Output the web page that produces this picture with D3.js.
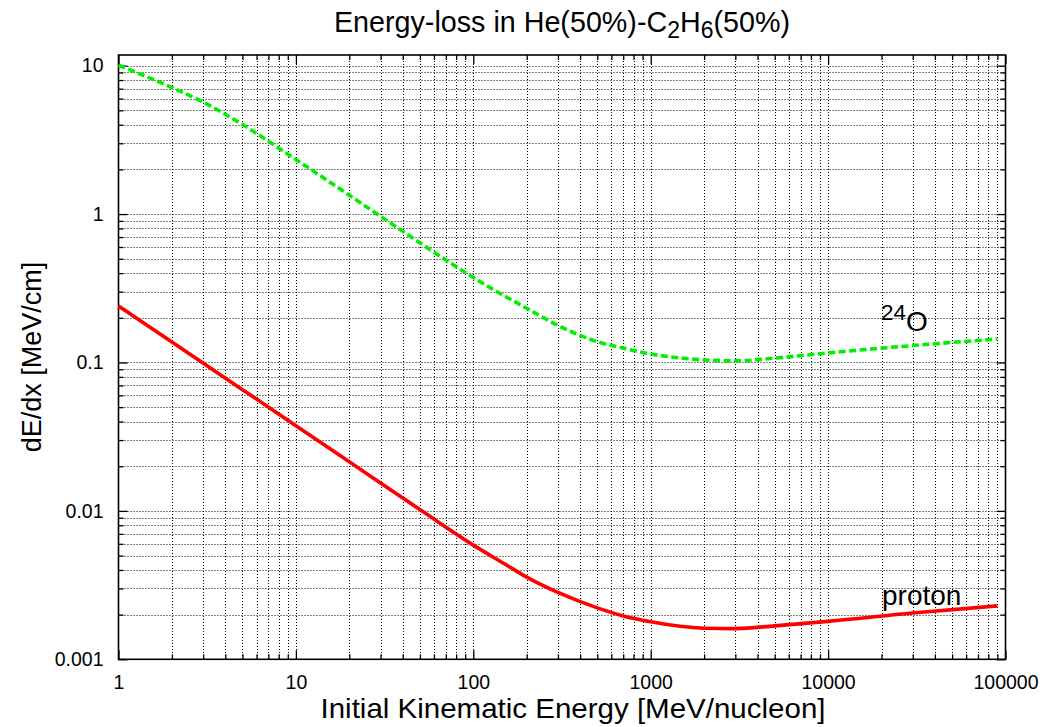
<!DOCTYPE html>
<html><head><meta charset="utf-8">
<script src="https://cdn.jsdelivr.net/npm/d3@7"></script>
<style>body{margin:0;background:#fff}svg{display:block}text{font-family:"Liberation Sans",Arial,sans-serif;fill:#000}</style>
</head><body>
<script>
const protonEnergy = [1, 2, 5, 10, 20, 50, 100, 150, 200, 300, 500, 700, 1000, 2000, 3000, 5000, 10000, 30000, 90000];
const protonDedx   = [0.240, 0.1373, 0.0656, 0.0375, 0.0214, 0.0102, 0.00588, 0.0044, 0.00358, 0.00282, 0.00222, 0.00196, 0.00179, 0.00162, 0.00161, 0.00168, 0.00180, 0.00205, 0.00229];
const oxygenEnergy = [1, 2, 3, 5, 10, 20, 30, 50, 70, 100, 140, 200, 300, 500, 700, 1000, 1500, 2000, 3000, 5000, 10000, 30000, 90000];
const oxygenDedx   = [10.07, 7.12, 5.68, 4.01, 2.33, 1.34, 0.965, 0.64, 0.49, 0.374, 0.294, 0.232, 0.178, 0.138, 0.125, 0.114, 0.107, 0.104, 0.1025, 0.107, 0.116, 0.130, 0.144];
const xTickValues = [1, 10, 100, 1000, 10000, 100000];
const xTickLabels = ["1", "10", "100", "1000", "10000", "100000"];
const yTickValues = [0.001, 0.01, 0.1, 1, 10];
const yTickLabels = ["0.001", "0.01", "0.1", "1", "10"];

const W = 1047, H = 727;
const L = 118.5, R = 1005.5, T = 55, B = 659.3;
const svg = d3.select("body").append("svg").attr("width", W).attr("height", H);
const x = d3.scaleLog().domain([1, 100000]).range([L, R]);
const y = d3.scaleLog().domain([0.001, 11.8]).range([B, T]);

const xMinor = [], yMinor = [];
for (let d = 1; d < 100000; d *= 10) for (let k = 2; k <= 9; k++) xMinor.push(d * k);
for (let d = 0.001; d < 10; d *= 10) for (let k = 2; k <= 9; k++) yMinor.push(d * k);

const grid = svg.append("g").attr("stroke", "#000").attr("stroke-width", 1).attr("stroke-dasharray", "1,2");
xMinor.concat(xTickValues).forEach(v => {
  const px = Math.round(x(v)) + 0.5;
  if (px > L + 2 && px < R - 2) grid.append("line").attr("x1", px).attr("x2", px).attr("y1", T).attr("y2", B);
});
yMinor.concat(yTickValues).forEach(v => {
  const py = Math.round(y(v)) + 0.5;
  if (py > T + 2 && py < B - 2) grid.append("line").attr("y1", py).attr("y2", py).attr("x1", L).attr("x2", R);
});

const axB = d3.axisBottom(x).tickValues(xTickValues).tickFormat((d, i) => xTickLabels[i]).tickSizeInner(-9).tickSizeOuter(0).tickPadding(16);
const axT = d3.axisTop(x).tickValues(xTickValues).tickFormat("").tickSizeInner(-9).tickSizeOuter(0);
const axL = d3.axisLeft(y).tickValues(yTickValues).tickFormat((d, i) => yTickLabels[i]).tickSizeInner(-9).tickSizeOuter(0).tickPadding(15);
const axR = d3.axisRight(y).tickValues(yTickValues).tickFormat("").tickSizeInner(-9).tickSizeOuter(0);
const axBm = d3.axisBottom(x).tickValues(xMinor).tickFormat("").tickSizeInner(-5).tickSizeOuter(0);
const axTm = d3.axisTop(x).tickValues(xMinor).tickFormat("").tickSizeInner(-5).tickSizeOuter(0);
const axLm = d3.axisLeft(y).tickValues(yMinor).tickFormat("").tickSizeInner(-5).tickSizeOuter(0);
const axRm = d3.axisRight(y).tickValues(yMinor).tickFormat("").tickSizeInner(-5).tickSizeOuter(0);

function put(ax, tr) {
  const g = svg.append("g").attr("transform", tr).call(ax);
  g.select(".domain").remove();
  g.selectAll("line").attr("stroke", "#000").attr("stroke-width", 1.3);
  g.selectAll("text").attr("font-size", 19.5).attr("font-family", "Liberation Sans, Arial, sans-serif").attr("fill", "#000");
  return g;
}
put(axB, `translate(0,${B})`); put(axBm, `translate(0,${B})`);
put(axT, `translate(0,${T})`); put(axTm, `translate(0,${T})`);
put(axL, `translate(${L},0)`); put(axLm, `translate(${L},0)`);
put(axR, `translate(${R},0)`); put(axRm, `translate(${R},0)`);

svg.append("rect").attr("x", L).attr("y", T).attr("width", R - L).attr("height", B - T)
  .attr("fill", "none").attr("stroke", "#000").attr("stroke-width", 1.6);

const line = d3.line().x(d => x(d[0])).y(d => y(d[1])).curve(d3.curveMonotoneX);
svg.append("path").datum(oxygenEnergy.map((e, i) => [e, oxygenDedx[i]]))
  .attr("d", line).attr("fill", "none").attr("stroke", "#00ee00").attr("stroke-width", 3.6)
  .attr("stroke-dasharray", "7,3.5");
svg.append("path").datum(protonEnergy.map((e, i) => [e, protonDedx[i]]))
  .attr("d", line).attr("fill", "none").attr("stroke", "#ff0000").attr("stroke-width", 3.6);

const t = svg.append("text").attr("x", 562).attr("y", 32).attr("text-anchor", "middle").attr("font-size", 28.7);
t.append("tspan").text("Energy-loss in He(50%)-C");
t.append("tspan").attr("font-size", 23).attr("dy", 6).text("2");
t.append("tspan").attr("dy", -6).text("H");
t.append("tspan").attr("font-size", 23).attr("dy", 6).text("6");
t.append("tspan").attr("dy", -6).text("(50%)");

svg.append("text").attr("x", 573).attr("y", 718).attr("text-anchor", "middle").attr("font-size", 28)
  .attr("textLength", 505).attr("lengthAdjust", "spacingAndGlyphs")
  .text("Initial Kinematic Energy [MeV/nucleon]");
svg.append("text").attr("transform", "translate(41,357) rotate(-90)").attr("text-anchor", "middle").attr("font-size", 27)
  .text("dE/dx [MeV/cm]");

const o = svg.append("text").attr("x", 881).attr("y", 331).attr("font-size", 28);
o.append("tspan").attr("font-size", 22.4).attr("dy", -11).text("24");
o.append("tspan").attr("dy", 11).text("O");
svg.append("text").attr("x", 882).attr("y", 605).attr("font-size", 28).text("proton");
</script>
</body></html>
